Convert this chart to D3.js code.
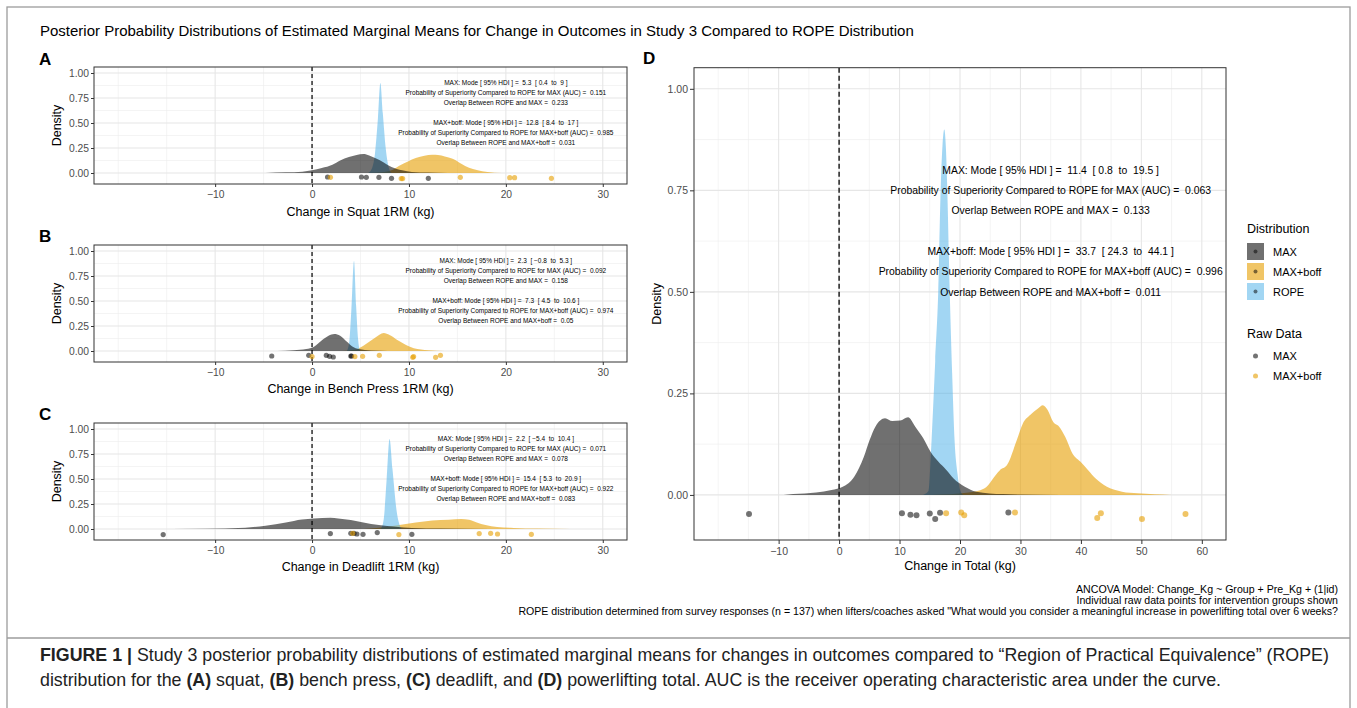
<!DOCTYPE html>
<html><head><meta charset="utf-8">
<script src="https://cdn.jsdelivr.net/npm/d3@7"></script>
<style>
body{margin:0;background:#fff;}
text{font-family:"Liberation Sans",Arial,Helvetica,sans-serif;white-space:pre;}
</style></head><body>
<svg id="c" width="1357" height="708"></svg>
<script>
// ---------------- DATA ----------------
// density curves: [change (kg), density]
const squatMAX  = [[-4.8,0],[-2.7,0.007],[-1,0.013],[0,0.027],[1,0.05],[2.1,0.083],[2.9,0.126],[3.8,0.16],[4.6,0.18],[5.3,0.19],[5.9,0.176],[6.5,0.15],[7.4,0.106],[8.2,0.06],[9.3,0.027],[10.3,0.01],[12,0.004],[14,0]];
const squatBOFF = [[5.7,0],[7.2,0.008],[8.2,0.027],[9.0,0.073],[9.9,0.116],[10.7,0.15],[11.6,0.173],[12.4,0.183],[13.0,0.18],[13.7,0.166],[14.5,0.143],[15.4,0.093],[16.2,0.053],[17.0,0.03],[18.1,0.01],[19.6,0]];
const squatROPE = [[5.8,0],[6.2,0.05],[6.5,0.2],[6.8,0.55],[7.05,0.9],[7.3,0.6],[7.6,0.25],[7.9,0.06],[8.2,0]];
const benchMAX  = [[-3.6,0],[-1.9,0.007],[-0.6,0.02],[0.2,0.043],[1.05,0.11],[1.7,0.153],[2.3,0.17],[2.9,0.153],[3.6,0.093],[4.2,0.043],[4.8,0.02],[6.1,0.005],[7.8,0]];
const benchBOFF = [[2.7,0],[4.4,0.013],[5.3,0.053],[5.9,0.093],[6.5,0.133],[7.4,0.18],[8.0,0.16],[8.8,0.11],[9.7,0.06],[10.5,0.027],[12.0,0.007],[13.7,0]];
const benchROPE = [[3.6,0],[3.85,0.1],[4.05,0.4],[4.33,0.9],[4.55,0.45],[4.75,0.12],[4.95,0]];
const deadMAX   = [[-17.9,0],[-11.1,0.003],[-6.9,0.013],[-4.8,0.033],[-2.7,0.066],[-1.05,0.096],[0.2,0.106],[1.9,0.113],[2.7,0.106],[4.0,0.09],[5.3,0.066],[6.9,0.04],[8.6,0.023],[10.3,0.01],[13.3,0.004],[18.3,0.001],[22.5,0]];
const deadBOFF  = [[5.3,0],[6.9,0.013],[9.0,0.04],[10.7,0.066],[12.4,0.086],[14.1,0.093],[15.4,0.1],[16.2,0.093],[17.0,0.066],[17.9,0.04],[19.1,0.02],[20.8,0.01],[23.3,0.004],[26.7,0.001],[29.2,0]];
const deadROPE  = [[7.1,0],[7.4,0.1],[7.7,0.5],[8.0,0.9],[8.3,0.6],[8.7,0.2],[9.2,0]];
const totalMAX  = [[-9.2,0],[-7.6,0.002],[-3.8,0.006],[-1.25,0.012],[0.6,0.02],[2.5,0.045],[4.1,0.094],[5.05,0.135],[6.0,0.168],[7.6,0.189],[8.8,0.182],[10.1,0.183],[11.4,0.191],[12.6,0.168],[13.9,0.14],[15.1,0.107],[16.4,0.082],[17.7,0.062],[18.9,0.041],[20.8,0.02],[22.7,0.008],[27.1,0.002],[36.6,0]];
const totalBOFF = [[15.2,0],[21.4,0.006],[24.0,0.016],[26.6,0.061],[27.8,0.074],[29.4,0.135],[30.4,0.176],[31.6,0.197],[32.9,0.213],[33.7,0.221],[34.5,0.209],[35.4,0.18],[36.4,0.168],[37.4,0.143],[38.6,0.102],[39.9,0.082],[41.2,0.061],[42.4,0.041],[44.3,0.02],[46.8,0.008],[49.4,0.004],[55.0,0]];
const totalROPE = [[13.9,0],[14.8,0.01],[15.3,0.135],[15.9,0.33],[16.4,0.5],[16.8,0.75],[17.1,0.86],[17.4,0.9],[17.65,0.86],[17.9,0.75],[18.3,0.5],[18.7,0.3],[19.1,0.135],[19.6,0.05],[20.05,0.01],[20.5,0]];

// raw data points: [change (kg), jittered position]
const squatPtsMAX  = [[1.6,-0.04],[5.1,-0.04],[5.6,-0.043],[6.9,-0.043],[8.2,-0.053],[12.0,-0.053]];
const squatPtsBOFF = [[1.9,-0.043],[9.2,-0.056],[9.35,-0.056],[15.3,-0.043],[20.4,-0.047],[20.9,-0.047],[24.7,-0.053]];
const benchPtsMAX  = [[-4.16,-0.05],[-0.34,-0.043],[1.47,-0.043],[1.81,-0.053],[2.19,-0.06],[4.0,-0.05],[4.08,-0.05]];
const benchPtsBOFF = [[0,-0.056],[4.42,-0.056],[5.22,-0.053],[6.94,-0.043],[10.39,-0.063],[10.48,-0.056],[12.75,-0.063],[13.25,-0.043]];
const deadPtsMAX   = [[-15.36,-0.056],[1.89,-0.046],[4.0,-0.043],[4.33,-0.043],[4.63,-0.05],[5.26,-0.053],[6.73,-0.036],[10.3,-0.053]];
const deadPtsBOFF  = [[4.2,-0.043],[8.96,-0.056],[17.25,-0.046],[18.43,-0.043],[19.14,-0.05],[22.63,-0.053]];
const totalPtsMAX  = [[-14.9,-0.047],[10.4,-0.045],[11.8,-0.049],[12.8,-0.05],[15.0,-0.046],[15.9,-0.059],[16.7,-0.044],[28.0,-0.043]];
const totalPtsBOFF = [[17.7,-0.045],[20.2,-0.043],[20.7,-0.05],[29.1,-0.043],[42.7,-0.057],[43.3,-0.045],[50.1,-0.059],[57.3,-0.047]];

// annotation texts
const squatNotes = ["MAX: Mode [ 95% HDI ] =  5.3  [ 0.4  to  9 ]","Probability of Superiority Compared to ROPE for MAX (AUC) =  0.151","Overlap Between ROPE and MAX =  0.233","MAX+boff: Mode [ 95% HDI ] =  12.8  [ 8.4  to  17 ]","Probability of Superiority Compared to ROPE for MAX+boff (AUC) =  0.985","Overlap Between ROPE and MAX+boff =  0.031"];
const benchNotes = ["MAX: Mode [ 95% HDI ] =  2.3  [ \u22120.8  to  5.3 ]","Probability of Superiority Compared to ROPE for MAX (AUC) =  0.092","Overlap Between ROPE and MAX =  0.158","MAX+boff: Mode [ 95% HDI ] =  7.3  [ 4.5  to  10.6 ]","Probability of Superiority Compared to ROPE for MAX+boff (AUC) =  0.974","Overlap Between ROPE and MAX+boff =  0.05"];
const deadNotes  = ["MAX: Mode [ 95% HDI ] =  2.2  [ \u22125.4  to  10.4 ]","Probability of Superiority Compared to ROPE for MAX (AUC) =  0.071","Overlap Between ROPE and MAX =  0.078","MAX+boff: Mode [ 95% HDI ] =  15.4  [ 5.3  to  20.9 ]","Probability of Superiority Compared to ROPE for MAX+boff (AUC) =  0.922","Overlap Between ROPE and MAX+boff =  0.083"];
const totalNotes = ["MAX: Mode [ 95% HDI ] =  11.4  [ 0.8  to  19.5 ]","Probability of Superiority Compared to ROPE for MAX (AUC) =  0.063","Overlap Between ROPE and MAX =  0.133","MAX+boff: Mode [ 95% HDI ] =  33.7  [ 24.3  to  44.1 ]","Probability of Superiority Compared to ROPE for MAX+boff (AUC) =  0.996","Overlap Between ROPE and MAX+boff =  0.011"];
const notesYSmall = [0.9,0.8,0.7,0.5,0.4,0.3];
const notesYLarge = [0.8,0.75,0.7,0.6,0.55,0.5];

const xTicksSmall = [-10,0,10,20,30];
const xTicksTotal = [-10,0,10,20,30,40,50,60];
const yTicks = [0,0.25,0.5,0.75,1.0];
const distLabels = ["MAX","MAX+boff","ROPE"];
const rawLabels = ["MAX","MAX+boff"];
const titleText = "Posterior Probability Distributions of Estimated Marginal Means for Change in Outcomes in Study 3 Compared to ROPE Distribution";
const footnotes = ["ANCOVA Model: Change_Kg ~ Group + Pre_Kg + (1|id)","Individual raw data points for intervention groups shown","ROPE distribution determined from survey responses (n = 137) when lifters/coaches asked \"What would you consider a meaningful increase in powerlifting total over 6 weeks?"];

// ---------------- STYLE ----------------
const COL = {MAX:"#000000", BOFF:"#E69F00", ROPE:"#56B4E9"};
const OP  = {MAX:0.56, BOFF:0.6, ROPE:0.55};
const svg = d3.select("#c");

// frame
svg.append("rect").attr("x",7).attr("y",7).attr("width",1343).attr("height",760)
  .attr("fill","none").attr("stroke","#9c9c9c").attr("stroke-width",1.3);
svg.append("line").attr("x1",7).attr("x2",1350).attr("y1",638).attr("y2",638)
  .attr("stroke","#9c9c9c").attr("stroke-width",1.3);

svg.append("text").attr("x",40).attr("y",36).attr("font-size",15).text(titleText);

function panel(cfg){
  const x = d3.scaleLinear().domain(cfg.xDom).range([cfg.x0,cfg.x1]);
  const y = d3.scaleLinear().domain(cfg.yDom).range([cfg.y1,cfg.y0]);
  const g = svg.append("g");
  const id = "clip"+cfg.label;
  g.append("clipPath").attr("id",id).append("rect")
    .attr("x",cfg.x0).attr("y",cfg.y0).attr("width",cfg.x1-cfg.x0).attr("height",cfg.y1-cfg.y0);
  g.append("rect").attr("x",cfg.x0).attr("y",cfg.y0).attr("width",cfg.x1-cfg.x0).attr("height",cfg.y1-cfg.y0).attr("fill","#fff");
  // minor grid
  const xMinor = d3.range(Math.ceil(cfg.xDom[0]/5)*5, cfg.xDom[1]+0.001, 5).filter(v=>!cfg.xTicks.includes(v));
  const yMinor = [0.125,0.375,0.625,0.875];
  const gg = g.append("g");
  gg.selectAll(".xm").data(xMinor).join("line").attr("x1",d=>x(d)).attr("x2",d=>x(d)).attr("y1",cfg.y0).attr("y2",cfg.y1).attr("stroke","#ececec").attr("stroke-width",0.6);
  gg.selectAll(".ym").data(yMinor).join("line").attr("y1",d=>y(d)).attr("y2",d=>y(d)).attr("x1",cfg.x0).attr("x2",cfg.x1).attr("stroke","#ececec").attr("stroke-width",0.6);
  gg.selectAll(".xM").data(cfg.xTicks).join("line").attr("x1",d=>x(d)).attr("x2",d=>x(d)).attr("y1",cfg.y0).attr("y2",cfg.y1).attr("stroke","#e6e6e6").attr("stroke-width",1.1);
  gg.selectAll(".yM").data(yTicks).join("line").attr("y1",d=>y(d)).attr("y2",d=>y(d)).attr("x1",cfg.x0).attr("x2",cfg.x1).attr("stroke","#e6e6e6").attr("stroke-width",1.1);

  const area = d3.area().x(d=>x(d[0])).y0(y(0)).y1(d=>y(d[1])).curve(d3.curveMonotoneX);
  const plot = g.append("g").attr("clip-path",`url(#${id})`);
  [["BOFF",cfg.boff],["ROPE",cfg.rope],["MAX",cfg.max]].forEach(([k,dat])=>{
    plot.append("path").datum(dat).attr("d",area).attr("fill",COL[k]).attr("fill-opacity",OP[k]);
  });
  // zero line
  plot.append("line").attr("x1",x(0)).attr("x2",x(0)).attr("y1",cfg.y0).attr("y2",cfg.y1)
    .attr("stroke","#000").attr("stroke-width",cfg.dashW).attr("stroke-dasharray",cfg.dash);
  // points
  plot.selectAll(".pm").data(cfg.ptsMax).join("circle").attr("cx",d=>x(d[0])).attr("cy",d=>y(d[1])).attr("r",cfg.r).attr("fill","#000").attr("fill-opacity",0.55);
  plot.selectAll(".pb").data(cfg.ptsBoff).join("circle").attr("cx",d=>x(d[0])).attr("cy",d=>y(d[1])).attr("r",cfg.r).attr("fill",COL.BOFF).attr("fill-opacity",0.6);
  // annotations
  g.selectAll(".note").data(cfg.notes).join("text")
    .attr("x",x(cfg.noteX)).attr("y",(d,i)=>y(cfg.noteY[i])).attr("dy","0.35em")
    .attr("text-anchor","middle").attr("font-size",cfg.noteFs).attr("fill","#000").text(d=>d);
  // border
  g.append("rect").attr("x",cfg.x0).attr("y",cfg.y0).attr("width",cfg.x1-cfg.x0).attr("height",cfg.y1-cfg.y0)
    .attr("fill","none").attr("stroke","#333").attr("stroke-width",1);
  // axes
  const ax = g.append("g").attr("transform",`translate(0,${cfg.y1})`)
    .call(d3.axisBottom(x).tickValues(cfg.xTicks).tickSize(cfg.tick).tickPadding(cfg.padX));
  const ay = g.append("g").attr("transform",`translate(${cfg.x0},0)`)
    .call(d3.axisLeft(y).tickValues(yTicks).tickFormat(d3.format(".2f")).tickSize(cfg.tick).tickPadding(cfg.padY));
  [ax,ay].forEach(a=>{
    a.select(".domain").remove();
    a.selectAll(".tick line").attr("stroke","#333").attr("stroke-width",1);
    a.selectAll(".tick text").attr("fill","#4d4d4d").attr("font-size",cfg.tickFs)
      .attr("font-family","Liberation Sans, Arial, sans-serif");
  });
  // titles
  g.append("text").attr("x",(cfg.x0+cfg.x1)/2).attr("y",cfg.xTitleY).attr("text-anchor","middle")
    .attr("font-size",cfg.titleFs).text(cfg.xTitle);
  g.append("text").attr("transform",`translate(${cfg.yTitleX},${(cfg.y0+cfg.y1)/2}) rotate(-90)`)
    .attr("text-anchor","middle").attr("dy","0.35em").attr("font-size",cfg.titleFs).text("Density");
  g.append("text").attr("x",cfg.labX).attr("y",cfg.labY).attr("font-size",17).attr("font-weight","bold").text(cfg.label);
  return {x,y};
}

const small = {xDom:[-22.5,32.5], yDom:[-0.11,1.06], x0:94, x1:627, xTicks:xTicksSmall,
  r:2.6, dash:"4,3", dashW:1.2, tick:3, padX:4, padY:2, tickFs:10.3, titleFs:12.5, noteFs:6.5, noteX:20, noteY:notesYSmall,
  yTitleX:57, labX:39};
panel(Object.assign({}, small, {y0:67, y1:184, label:"A", labY:65, xTitle:"Change in Squat 1RM (kg)", xTitleY:216,
  max:squatMAX, boff:squatBOFF, rope:squatROPE, ptsMax:squatPtsMAX, ptsBoff:squatPtsBOFF, notes:squatNotes}));
panel(Object.assign({}, small, {y0:245, y1:362, label:"B", labY:242, xTitle:"Change in Bench Press 1RM (kg)", xTitleY:393,
  max:benchMAX, boff:benchBOFF, rope:benchROPE, ptsMax:benchPtsMAX, ptsBoff:benchPtsBOFF, notes:benchNotes}));
panel(Object.assign({}, small, {y0:423, y1:540, label:"C", labY:420, xTitle:"Change in Deadlift 1RM (kg)", xTitleY:571,
  max:deadMAX, boff:deadBOFF, rope:deadROPE, ptsMax:deadPtsMAX, ptsBoff:deadPtsBOFF, notes:deadNotes}));
panel({xDom:[-24,64], yDom:[-0.111,1.052], x0:694, x1:1226, y0:67.7, y1:540, xTicks:xTicksTotal,
  r:3, dash:"5,3", dashW:1.3, tick:4, padX:4, padY:2, tickFs:10.5, titleFs:12.5, noteFs:10.4, noteX:35, noteY:notesYLarge,
  yTitleX:657, labX:643, labY:64, label:"D", xTitle:"Change in Total (kg)", xTitleY:570,
  max:totalMAX, boff:totalBOFF, rope:totalROPE, ptsMax:totalPtsMAX, ptsBoff:totalPtsBOFF, notes:totalNotes});

// legend
const lg = svg.append("g");
lg.append("text").attr("x",1247).attr("y",233).attr("font-size",12.5).text("Distribution");
const keyCols = [["MAX",COL.MAX,OP.MAX],["BOFF",COL.BOFF,OP.BOFF],["ROPE",COL.ROPE,OP.ROPE]];
distLabels.forEach((lab,i)=>{
  const ky = 243 + i*20;
  lg.append("rect").attr("x",1247).attr("y",ky).attr("width",17).attr("height",17).attr("fill",keyCols[i][1]).attr("fill-opacity",keyCols[i][2]);
  lg.append("circle").attr("cx",1255.5).attr("cy",ky+8.5).attr("r",2).attr("fill","#000").attr("fill-opacity",0.5);
  lg.append("text").attr("x",1273).attr("y",ky+12.5).attr("font-size",11).text(lab);
});
lg.append("text").attr("x",1247).attr("y",338).attr("font-size",12.5).text("Raw Data");
rawLabels.forEach((lab,i)=>{
  const ky = 356 + i*20;
  lg.append("circle").attr("cx",1255.5).attr("cy",ky).attr("r",2.5).attr("fill",i===0?"#000":COL.BOFF).attr("fill-opacity",i===0?0.55:0.6);
  lg.append("text").attr("x",1273).attr("y",ky+4).attr("font-size",11).text(lab);
});

// footnotes
svg.selectAll(".fn").data(footnotes).join("text").attr("x",1338).attr("y",(d,i)=>593+i*11.2)
  .attr("text-anchor","end").attr("font-size",10.6).text(d=>d);

// figure caption
const cap1 = svg.append("text").attr("font-size",17.5).attr("fill","#222");
cap1.append("tspan").attr("font-weight","bold").text("FIGURE 1 | ");
cap1.append("tspan").text("Study 3 posterior probability distributions of estimated marginal means for changes in outcomes compared to \u201cRegion of Practical Equivalence\u201d (ROPE)");
const cap2 = svg.append("text").attr("font-size",17.5).attr("fill","#222");
cap2.append("tspan").text("distribution for the ");
cap2.append("tspan").attr("font-weight","bold").text("(A)");
cap2.append("tspan").text(" squat, ");
cap2.append("tspan").attr("font-weight","bold").text("(B)");
cap2.append("tspan").text(" bench press, ");
cap2.append("tspan").attr("font-weight","bold").text("(C)");
cap2.append("tspan").text(" deadlift, and ");
cap2.append("tspan").attr("font-weight","bold").text("(D)");
cap2.append("tspan").text(" powerlifting total. AUC is the receiver operating characteristic area under the curve.");
const w1 = cap1.node().getBBox().width;
const s = 1290 / w1;
cap1.attr("transform",`translate(40,661) scale(${s},1)`);
cap2.attr("transform",`translate(40,686) scale(${s},1)`);
</script>
</body></html>
